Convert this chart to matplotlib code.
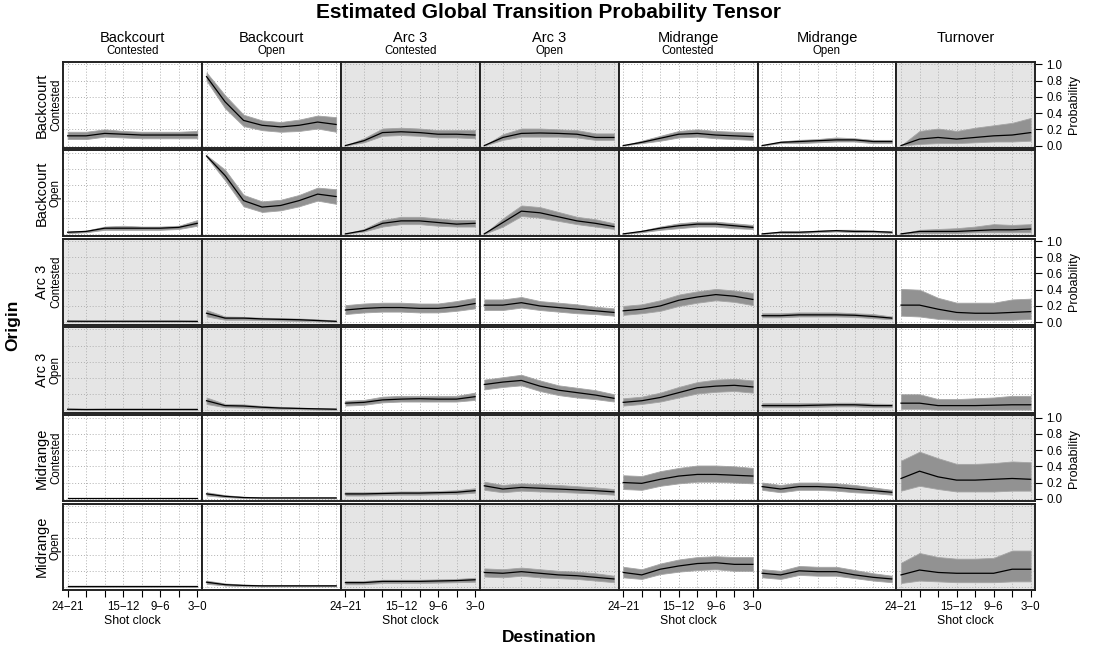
import matplotlib
matplotlib.use('Agg')
import matplotlib.pyplot as plt

plt.rcParams['font.family'] = ['Liberation Sans', 'DejaVu Sans']

# ---------------- data ----------------
shot_clock = ['24−21', '21−18', '18−15', '15−12', '12−9', '9−6', '6−3', '3−0']
shown_labels = ['24−21', '15−12', '9−6', '3−0']
dest_zones = ['Backcourt', 'Backcourt', 'Arc 3', 'Arc 3', 'Midrange', 'Midrange', 'Turnover']
dest_states = ['Contested', 'Open', 'Contested', 'Open', 'Contested', 'Open', '']
origin_zones = ['Backcourt', 'Backcourt', 'Arc 3', 'Arc 3', 'Midrange', 'Midrange']
origin_states = ['Contested', 'Open', 'Contested', 'Open', 'Contested', 'Open']
prob_ticks = [0.0, 0.2, 0.4, 0.6, 0.8, 1.0]

# Origin: Backcourt Contested  (one list per destination)
mean_bc_c = [[0.12, 0.12, 0.15, 0.14, 0.13, 0.13, 0.13, 0.13],
             [0.85, 0.54, 0.31, 0.25, 0.23, 0.25, 0.29, 0.26],
             [0.0, 0.06, 0.16, 0.17, 0.16, 0.14, 0.14, 0.13],
             [0.0, 0.10, 0.15, 0.155, 0.15, 0.14, 0.10, 0.10],
             [0.0, 0.04, 0.09, 0.14, 0.15, 0.13, 0.12, 0.11],
             [0.0, 0.04, 0.05, 0.06, 0.07, 0.07, 0.05, 0.05],
             [0.0, 0.08, 0.10, 0.08, 0.10, 0.12, 0.13, 0.16]]
lo_bc_c = [[0.08, 0.08, 0.11, 0.10, 0.09, 0.09, 0.09, 0.09],
           [0.80, 0.46, 0.24, 0.19, 0.17, 0.18, 0.21, 0.17],
           [0.0, 0.04, 0.12, 0.13, 0.12, 0.10, 0.10, 0.09],
           [0.0, 0.07, 0.11, 0.11, 0.11, 0.10, 0.07, 0.07],
           [0.0, 0.03, 0.06, 0.10, 0.11, 0.09, 0.08, 0.07],
           [0.0, 0.03, 0.03, 0.04, 0.05, 0.05, 0.03, 0.03],
           [0.0, 0.02, 0.03, 0.03, 0.04, 0.05, 0.05, 0.06]]
hi_bc_c = [[0.17, 0.17, 0.20, 0.18, 0.17, 0.17, 0.17, 0.18],
           [0.90, 0.62, 0.38, 0.31, 0.29, 0.32, 0.37, 0.35],
           [0.0, 0.09, 0.21, 0.22, 0.21, 0.19, 0.19, 0.19],
           [0.0, 0.14, 0.21, 0.21, 0.20, 0.19, 0.15, 0.15],
           [0.0, 0.06, 0.12, 0.18, 0.20, 0.18, 0.17, 0.16],
           [0.0, 0.05, 0.07, 0.08, 0.10, 0.09, 0.07, 0.07],
           [0.0, 0.18, 0.21, 0.18, 0.22, 0.25, 0.28, 0.34]]

# Origin: Backcourt Open
mean_bc_o = [[0.02, 0.03, 0.07, 0.07, 0.07, 0.07, 0.08, 0.13],
             [0.96, 0.72, 0.41, 0.33, 0.35, 0.41, 0.49, 0.46],
             [0.0, 0.04, 0.13, 0.16, 0.16, 0.14, 0.12, 0.13],
             [0.0, 0.14, 0.28, 0.26, 0.21, 0.16, 0.13, 0.09],
             [0.0, 0.03, 0.07, 0.10, 0.12, 0.12, 0.10, 0.08],
             [0.0, 0.02, 0.02, 0.03, 0.04, 0.03, 0.03, 0.02],
             [0.0, 0.03, 0.03, 0.03, 0.04, 0.05, 0.05, 0.06]]
lo_bc_o = [[0.01, 0.02, 0.05, 0.05, 0.05, 0.05, 0.06, 0.10],
           [0.95, 0.66, 0.34, 0.27, 0.29, 0.34, 0.41, 0.37],
           [0.0, 0.03, 0.09, 0.12, 0.12, 0.10, 0.09, 0.09],
           [0.0, 0.09, 0.22, 0.20, 0.16, 0.12, 0.09, 0.06],
           [0.0, 0.02, 0.05, 0.07, 0.09, 0.09, 0.07, 0.06],
           [0.0, 0.01, 0.01, 0.02, 0.03, 0.02, 0.02, 0.01],
           [0.0, 0.01, 0.01, 0.01, 0.02, 0.02, 0.02, 0.02]]
hi_bc_o = [[0.03, 0.04, 0.09, 0.10, 0.09, 0.09, 0.10, 0.17],
           [0.97, 0.79, 0.48, 0.40, 0.42, 0.48, 0.57, 0.55],
           [0.0, 0.06, 0.17, 0.21, 0.21, 0.19, 0.17, 0.17],
           [0.0, 0.19, 0.35, 0.33, 0.27, 0.21, 0.18, 0.13],
           [0.0, 0.04, 0.09, 0.13, 0.15, 0.15, 0.13, 0.11],
           [0.0, 0.03, 0.03, 0.04, 0.05, 0.05, 0.04, 0.03],
           [0.0, 0.05, 0.06, 0.07, 0.09, 0.12, 0.11, 0.12]]

# Origin: Arc 3 Contested
mean_a3_c = [[0.012, 0.011, 0.011, 0.011, 0.011, 0.011, 0.011, 0.010],
             [0.11, 0.05, 0.05, 0.04, 0.035, 0.03, 0.02, 0.01],
             [0.15, 0.17, 0.18, 0.18, 0.17, 0.17, 0.19, 0.23],
             [0.21, 0.21, 0.24, 0.20, 0.18, 0.16, 0.14, 0.12],
             [0.14, 0.16, 0.20, 0.27, 0.31, 0.34, 0.32, 0.28],
             [0.08, 0.08, 0.09, 0.09, 0.09, 0.085, 0.07, 0.05],
             [0.21, 0.21, 0.16, 0.12, 0.11, 0.11, 0.12, 0.13]]
lo_a3_c = [[0.006, 0.006, 0.006, 0.006, 0.006, 0.006, 0.006, 0.005],
           [0.07, 0.03, 0.03, 0.025, 0.02, 0.015, 0.01, 0.005],
           [0.10, 0.12, 0.13, 0.13, 0.12, 0.12, 0.14, 0.17],
           [0.15, 0.15, 0.18, 0.15, 0.13, 0.11, 0.10, 0.08],
           [0.09, 0.11, 0.14, 0.20, 0.24, 0.27, 0.25, 0.21],
           [0.06, 0.06, 0.07, 0.07, 0.07, 0.065, 0.05, 0.035],
           [0.08, 0.07, 0.04, 0.03, 0.03, 0.03, 0.03, 0.04]]
hi_a3_c = [[0.018, 0.017, 0.017, 0.017, 0.017, 0.017, 0.017, 0.016],
           [0.15, 0.07, 0.065, 0.055, 0.05, 0.045, 0.035, 0.02],
           [0.21, 0.23, 0.24, 0.24, 0.23, 0.23, 0.26, 0.30],
           [0.28, 0.28, 0.31, 0.26, 0.24, 0.22, 0.19, 0.17],
           [0.20, 0.22, 0.27, 0.34, 0.38, 0.41, 0.39, 0.36],
           [0.11, 0.11, 0.12, 0.12, 0.12, 0.11, 0.10, 0.07],
           [0.41, 0.40, 0.30, 0.24, 0.24, 0.24, 0.28, 0.29]]

# Origin: Arc 3 Open
mean_a3_o = [[0.015, 0.012, 0.013, 0.013, 0.013, 0.013, 0.013, 0.013],
             [0.12, 0.06, 0.055, 0.04, 0.03, 0.025, 0.02, 0.015],
             [0.09, 0.10, 0.13, 0.14, 0.145, 0.14, 0.14, 0.17],
             [0.32, 0.35, 0.37, 0.30, 0.25, 0.22, 0.19, 0.15],
             [0.10, 0.12, 0.16, 0.22, 0.28, 0.30, 0.31, 0.29],
             [0.06, 0.06, 0.06, 0.065, 0.07, 0.07, 0.06, 0.06],
             [0.09, 0.09, 0.06, 0.06, 0.06, 0.065, 0.07, 0.07]]
lo_a3_o = [[0.008, 0.007, 0.007, 0.007, 0.007, 0.007, 0.007, 0.007],
           [0.08, 0.04, 0.035, 0.025, 0.02, 0.015, 0.01, 0.008],
           [0.06, 0.07, 0.10, 0.11, 0.11, 0.11, 0.11, 0.13],
           [0.26, 0.29, 0.31, 0.24, 0.19, 0.16, 0.14, 0.11],
           [0.06, 0.08, 0.11, 0.16, 0.21, 0.23, 0.24, 0.22],
           [0.04, 0.04, 0.04, 0.045, 0.05, 0.05, 0.04, 0.04],
           [0.02, 0.02, 0.01, 0.01, 0.01, 0.01, 0.01, 0.01]]
hi_a3_o = [[0.022, 0.018, 0.019, 0.019, 0.019, 0.019, 0.019, 0.019],
           [0.16, 0.08, 0.075, 0.055, 0.045, 0.035, 0.03, 0.025],
           [0.12, 0.13, 0.17, 0.18, 0.18, 0.18, 0.18, 0.22],
           [0.38, 0.41, 0.44, 0.37, 0.31, 0.28, 0.25, 0.20],
           [0.15, 0.17, 0.22, 0.29, 0.35, 0.38, 0.39, 0.37],
           [0.09, 0.09, 0.09, 0.09, 0.095, 0.095, 0.085, 0.08],
           [0.20, 0.20, 0.14, 0.14, 0.15, 0.16, 0.18, 0.18]]

# Origin: Midrange Contested
mean_mr_c = [[0.01, 0.01, 0.01, 0.01, 0.01, 0.01, 0.01, 0.01],
             [0.06, 0.03, 0.015, 0.01, 0.01, 0.01, 0.01, 0.01],
             [0.06, 0.06, 0.065, 0.07, 0.07, 0.075, 0.08, 0.10],
             [0.16, 0.12, 0.14, 0.13, 0.12, 0.11, 0.10, 0.085],
             [0.20, 0.19, 0.24, 0.28, 0.30, 0.30, 0.29, 0.28],
             [0.15, 0.12, 0.15, 0.15, 0.14, 0.12, 0.10, 0.08],
             [0.25, 0.34, 0.27, 0.23, 0.23, 0.24, 0.25, 0.24]]
lo_mr_c = [[0.005, 0.005, 0.005, 0.005, 0.005, 0.005, 0.005, 0.005],
           [0.04, 0.02, 0.01, 0.005, 0.005, 0.005, 0.005, 0.005],
           [0.04, 0.04, 0.045, 0.05, 0.05, 0.055, 0.06, 0.075],
           [0.11, 0.08, 0.10, 0.09, 0.085, 0.075, 0.065, 0.05],
           [0.12, 0.11, 0.16, 0.19, 0.21, 0.21, 0.20, 0.19],
           [0.11, 0.08, 0.11, 0.11, 0.10, 0.08, 0.07, 0.05],
           [0.10, 0.16, 0.12, 0.09, 0.09, 0.09, 0.10, 0.10]]
hi_mr_c = [[0.015, 0.015, 0.015, 0.015, 0.015, 0.015, 0.015, 0.015],
           [0.08, 0.045, 0.025, 0.018, 0.018, 0.018, 0.018, 0.018],
           [0.08, 0.08, 0.085, 0.09, 0.09, 0.095, 0.105, 0.13],
           [0.21, 0.17, 0.19, 0.18, 0.17, 0.155, 0.14, 0.12],
           [0.29, 0.28, 0.34, 0.38, 0.41, 0.41, 0.40, 0.38],
           [0.20, 0.17, 0.20, 0.20, 0.19, 0.17, 0.14, 0.11],
           [0.47, 0.58, 0.50, 0.43, 0.43, 0.44, 0.46, 0.45]]

# Origin: Midrange Open
mean_mr_o = [[0.01, 0.01, 0.01, 0.01, 0.01, 0.01, 0.01, 0.01],
             [0.06, 0.03, 0.02, 0.015, 0.015, 0.015, 0.015, 0.015],
             [0.055, 0.055, 0.07, 0.07, 0.07, 0.075, 0.08, 0.09],
             [0.18, 0.17, 0.19, 0.17, 0.15, 0.14, 0.12, 0.10],
             [0.18, 0.15, 0.22, 0.26, 0.29, 0.30, 0.28, 0.28],
             [0.17, 0.15, 0.20, 0.19, 0.19, 0.15, 0.12, 0.10],
             [0.15, 0.21, 0.18, 0.17, 0.17, 0.17, 0.22, 0.22]]
lo_mr_o = [[0.005, 0.005, 0.005, 0.005, 0.005, 0.005, 0.005, 0.005],
           [0.04, 0.02, 0.01, 0.008, 0.008, 0.008, 0.008, 0.008],
           [0.035, 0.035, 0.05, 0.05, 0.05, 0.055, 0.06, 0.065],
           [0.13, 0.12, 0.14, 0.12, 0.11, 0.10, 0.08, 0.06],
           [0.12, 0.10, 0.16, 0.19, 0.21, 0.22, 0.20, 0.20],
           [0.12, 0.10, 0.15, 0.14, 0.14, 0.11, 0.08, 0.06],
           [0.05, 0.08, 0.07, 0.06, 0.06, 0.06, 0.07, 0.07]]
hi_mr_o = [[0.015, 0.015, 0.015, 0.015, 0.015, 0.015, 0.015, 0.015],
           [0.08, 0.045, 0.03, 0.025, 0.025, 0.025, 0.025, 0.025],
           [0.075, 0.075, 0.09, 0.09, 0.09, 0.095, 0.10, 0.115],
           [0.23, 0.22, 0.24, 0.22, 0.20, 0.19, 0.17, 0.14],
           [0.25, 0.22, 0.29, 0.34, 0.37, 0.38, 0.37, 0.37],
           [0.22, 0.20, 0.26, 0.25, 0.25, 0.21, 0.17, 0.14],
           [0.30, 0.42, 0.37, 0.35, 0.35, 0.36, 0.45, 0.45]]

means = [mean_bc_c, mean_bc_o, mean_a3_c, mean_a3_o, mean_mr_c, mean_mr_o]
lows = [lo_bc_c, lo_bc_o, lo_a3_c, lo_a3_o, lo_mr_c, lo_mr_o]
highs = [hi_bc_c, hi_bc_o, hi_a3_c, hi_a3_o, hi_mr_c, hi_mr_o]

# ---------------- layout ----------------
W, H = 1097, 654
fig = plt.figure(figsize=(W / 100, H / 100), dpi=100)

x0, pw = 63, 138.9
y0, ph, gap = 62, 86, 2.3
zone_idx_o = {'Backcourt': 0, 'Arc 3': 1, 'Midrange': 2}
zone_idx_d = {'Backcourt': 0, 'Arc 3': 1, 'Midrange': 2, 'Turnover': 3}
xpos = list(range(len(shot_clock)))

for r in range(6):
    for c in range(7):
        left = (x0 + c * pw) / W
        top = y0 + r * (ph + gap)
        bottom = 1 - (top + ph) / H
        ax = fig.add_axes([left, bottom, pw / W, ph / H])
        shaded = (zone_idx_o[origin_zones[r]] + zone_idx_d[dest_zones[c]]) % 2 == 1
        ax.set_facecolor('#e5e5e5' if shaded else 'white')
        ax.fill_between(xpos, lows[r][c], highs[r][c], color='#929292', lw=0.6,
                        edgecolor='#a5a5a5', zorder=2)
        ax.plot(xpos, means[r][c], color='black', lw=0.9, zorder=3)
        ax.set_xlim(-0.25, 7.25)
        ax.set_ylim(-0.03, 1.03)
        ax.set_xticks(xpos)
        ax.set_yticks(prob_ticks)
        ax.grid(True, color='#b0b0b0', ls=(0, (1, 2)), lw=0.7, zorder=1)
        ax.set_axisbelow(True)
        for s in ax.spines.values():
            s.set_linewidth(1.4)
            s.set_color('#222222')
        # bottom axis
        if r == 5 and c % 2 == 0:
            ax.set_xticklabels([l if l in shown_labels else '' for l in shot_clock], fontsize=8.3)
            ax.tick_params(axis='x', direction='out', length=5, width=0.8, pad=3)
            ax.set_xlabel('Shot clock', fontsize=8.8, labelpad=2)
        else:
            ax.tick_params(axis='x', length=0, labelbottom=False)
        # right axis
        if c == 6 and r % 2 == 0:
            ax.yaxis.tick_right()
            ax.yaxis.set_label_position('right')
            ax.set_yticklabels([f'{v:.1f}' for v in prob_ticks], fontsize=8.3)
            ax.tick_params(axis='y', direction='out', length=5, width=0.8, pad=3,
                           left=False, labelleft=False)
            ax.set_ylabel('Probability', fontsize=9, labelpad=4)
        else:
            ax.tick_params(axis='y', length=0, labelleft=False, labelright=False)

# column headers
for c in range(7):
    cx = (x0 + (c + 0.5) * pw) / W
    fig.text(cx, 1 - 38 / H, dest_zones[c], ha='center', va='center', fontsize=10.5)
    if dest_states[c]:
        fig.text(cx, 1 - 51 / H, dest_states[c], ha='center', va='center', fontsize=8.3)

# row headers
for r in range(6):
    cy = 1 - (y0 + r * (ph + gap) + ph / 2) / H
    fig.text(42 / W, cy, origin_zones[r], ha='center', va='center', rotation=90, fontsize=10.5)
    fig.text(56 / W, cy, origin_states[r], ha='center', va='center', rotation=90, fontsize=8.3)

fig.text(0.5, 1 - 12 / H, 'Estimated Global Transition Probability Tensor', ha='center',
         va='center', fontsize=15, fontweight='bold')
fig.text(549 / W, 1 - 637 / H, 'Destination', ha='center', va='center', fontsize=12.5,
         fontweight='bold')
fig.text(13 / W, 1 - 325 / H, 'Origin', ha='center', va='center', rotation=90, fontsize=12.5,
         fontweight='bold')

fig.savefig('out.png', dpi=100)
